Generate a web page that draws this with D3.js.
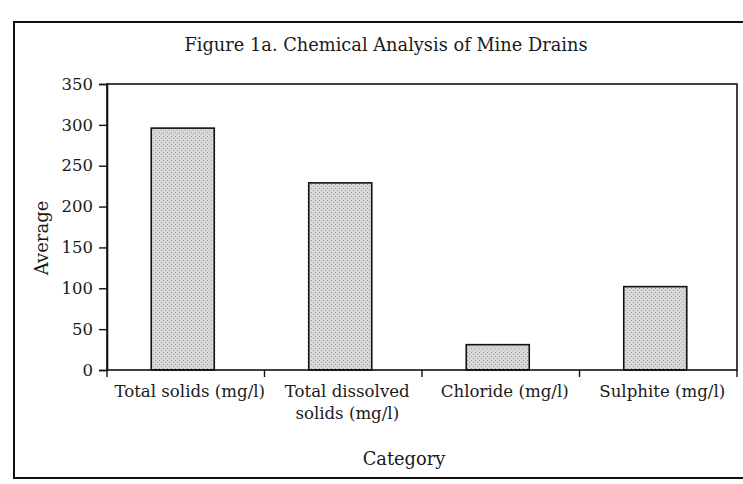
<!DOCTYPE html>
<html>
<head>
<meta charset="utf-8">
<script src="https://cdn.jsdelivr.net/npm/d3@7"></script>
<style>
  body { margin: 0; background: #fff; }
  svg { display: block; }
  text { font-family: "DejaVu Serif", "Liberation Serif", serif; fill: #1a1a1a; }
</style>
</head>
<body>
<svg width="743" height="484"></svg>
<script>
const categories = [
  ["Total solids (mg/l)"],
  ["Total dissolved", "solids (mg/l)"],
  ["Chloride (mg/l)"],
  ["Sulphite (mg/l)"]
];
const averages = [296, 229, 31, 102];
const yTicks = [0, 50, 100, 150, 200, 250, 300, 350];

const svg = d3.select("svg");
const margin = { top: 84, right: 6, bottom: 114, left: 107 };
const width = 743 - margin.left - margin.right;
const height = 484 - margin.top - margin.bottom;

// stipple fill for the bars
const defs = svg.append("defs");
const pat = defs.append("pattern")
  .attr("id", "stipple")
  .attr("width", 4).attr("height", 4)
  .attr("patternUnits", "userSpaceOnUse");
pat.append("rect").attr("width", 4).attr("height", 4).attr("fill", "#d8d8d8");
pat.append("rect").attr("x", 0).attr("y", 0).attr("width", 1).attr("height", 1).attr("fill", "#9c9c9c");
pat.append("rect").attr("x", 2).attr("y", 2).attr("width", 1).attr("height", 1).attr("fill", "#aaaaaa");

// outer frame
svg.append("path")
  .attr("d", "M 743 22 H 14 V 478 H 743")
  .attr("fill", "none")
  .attr("stroke", "#111")
  .attr("stroke-width", 2);

svg.append("text")
  .attr("x", 386).attr("y", 51)
  .attr("text-anchor", "middle")
  .attr("font-size", 17.8)
  .text("Figure 1a. Chemical Analysis of Mine Drains");

const g = svg.append("g").attr("transform", `translate(${margin.left},${margin.top})`);

const x = d3.scaleBand()
  .domain(d3.range(categories.length))
  .range([0, width])
  .paddingInner(0.6)
  .paddingOuter(0.3);

const y = d3.scaleLinear().domain([0, 350]).range([height, 0]);

g.selectAll("rect.bar")
  .data(averages)
  .enter().append("rect")
  .attr("class", "bar")
  .attr("x", (d, i) => x(i) - 3)
  .attr("y", d => y(d))
  .attr("width", x.bandwidth())
  .attr("height", d => height - y(d))
  .attr("fill", "url(#stipple)")
  .attr("stroke", "#111")
  .attr("stroke-width", 1.6);

// plot box
g.append("rect")
  .attr("width", width).attr("height", height)
  .attr("fill", "none")
  .attr("stroke", "#111")
  .attr("stroke-width", 1.6);

const yAxis = g.append("g")
  .call(d3.axisLeft(y).tickValues(yTicks).tickSize(8).tickPadding(6));
yAxis.select(".domain").attr("stroke", "#111").attr("stroke-width", 1.6);
yAxis.selectAll(".tick line").attr("stroke", "#111").attr("stroke-width", 1.4);
yAxis.selectAll(".tick text")
  .attr("font-size", 16.5)
  .attr("fill", "#1a1a1a");

// category boundary ticks
const bounds = d3.range(categories.length + 1).map(i => i * width / categories.length);
g.selectAll("line.xtick")
  .data(bounds)
  .enter().append("line")
  .attr("class", "xtick")
  .attr("x1", d => d).attr("x2", d => d)
  .attr("y1", height).attr("y2", height + 7)
  .attr("stroke", "#111")
  .attr("stroke-width", 1.4);

const xl = g.selectAll("text.xlab")
  .data(categories)
  .enter().append("text")
  .attr("class", "xlab")
  .attr("text-anchor", "middle")
  .attr("font-size", 16.6)
  .attr("transform", (d, i) => `translate(${x(i) + x.bandwidth() / 2 + 4},${height + 27})`);
xl.selectAll("tspan")
  .data(d => d)
  .enter().append("tspan")
  .attr("x", 0)
  .attr("dy", (d, i) => i === 0 ? 0 : 22)
  .text(d => d);

svg.append("text")
  .attr("transform", "translate(48,238) rotate(-90)")
  .attr("text-anchor", "middle")
  .attr("font-size", 18)
  .text("Average");

svg.append("text")
  .attr("x", 404).attr("y", 465)
  .attr("text-anchor", "middle")
  .attr("font-size", 17.8)
  .text("Category");
</script>
</body>
</html>
